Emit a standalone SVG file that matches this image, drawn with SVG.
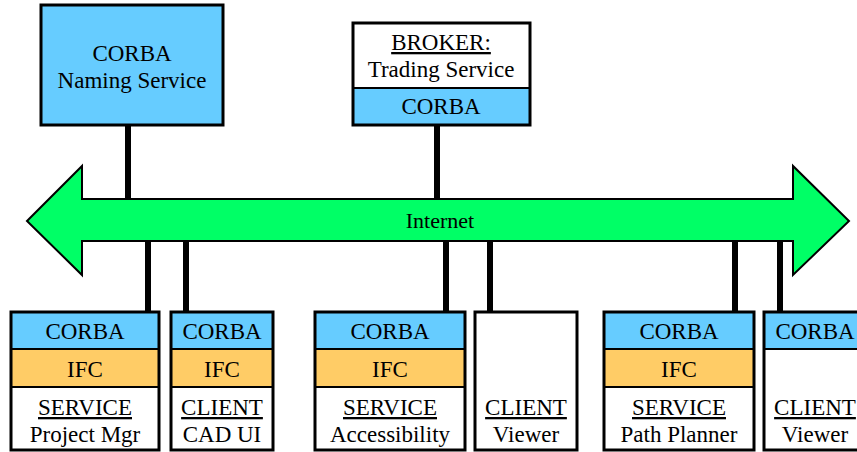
<svg xmlns="http://www.w3.org/2000/svg" width="857" height="452" viewBox="0 0 857 452">
<style>
text{font-family:"Liberation Serif","Times New Roman",serif;font-size:23px;fill:#000;text-anchor:middle}
.u{text-decoration:underline}
.box{stroke:#000;stroke-width:3}
.blue{fill:#66CCFF}
.orange{fill:#FFCC66}
.white{fill:#FFFFFF}
.div{stroke:#000;stroke-width:2;fill:none}
.conn{stroke:#000;stroke-width:6;fill:none}
</style>
<rect width="857" height="452" fill="#fff"/>
<g id="connectors">
<line class="conn" x1="128" y1="125" x2="128" y2="205"/>
<line class="conn" x1="437" y1="125" x2="437" y2="205"/>
<line class="conn" x1="148" y1="235" x2="148" y2="312"/>
<line class="conn" x1="186" y1="235" x2="186" y2="312"/>
<line class="conn" x1="446" y1="235" x2="446" y2="312"/>
<line class="conn" x1="490" y1="235" x2="490" y2="312"/>
<line class="conn" x1="735" y1="235" x2="735" y2="312"/>
<line class="conn" x1="780" y1="235" x2="780" y2="312"/>
</g>
<g id="internet">
<polygon points="27,221 82,166 82,199 793,199 793,166 849,221 793,275 793,241 82,241 82,275" fill="#00FF66" stroke="#000" stroke-width="2"/>
<text x="440" y="228" style="font-size:22px">Internet</text>
</g>
<g id="naming">
<rect class="box blue" x="41" y="5" width="182" height="120"/>
<text x="132" y="61">CORBA</text>
<text x="132" y="88">Naming Service</text>
</g>
<g id="broker">
<rect class="white" x="353" y="23" width="177" height="65"/>
<rect class="blue" x="353" y="88" width="177" height="37"/>
<line class="div" x1="353" y1="88" x2="530" y2="88"/>
<rect class="box" fill="none" x="353" y="23" width="177" height="102"/>
<text class="u" x="441" y="50">BROKER:</text>
<text x="441" y="77">Trading Service</text>
<text x="441" y="114">CORBA</text>
</g>
<g id="svc-project">
<rect class="blue" x="11" y="312" width="148" height="37"/>
<rect class="orange" x="11" y="349" width="148" height="38"/>
<rect class="white" x="11" y="387" width="148" height="63"/>
<line class="div" x1="11" y1="349" x2="159" y2="349"/>
<line class="div" x1="11" y1="387" x2="159" y2="387"/>
<rect class="box" fill="none" x="11" y="312" width="148" height="138"/>
<text x="85" y="339">CORBA</text>
<text x="85" y="377">IFC</text>
<text class="u" x="85" y="415">SERVICE</text>
<text x="85" y="442">Project Mgr</text>
</g>
<g id="client-cad">
<rect class="blue" x="171" y="312" width="102" height="37"/>
<rect class="orange" x="171" y="349" width="102" height="38"/>
<rect class="white" x="171" y="387" width="102" height="63"/>
<line class="div" x1="171" y1="349" x2="273" y2="349"/>
<line class="div" x1="171" y1="387" x2="273" y2="387"/>
<rect class="box" fill="none" x="171" y="312" width="102" height="138"/>
<text x="222" y="339">CORBA</text>
<text x="222" y="377">IFC</text>
<text class="u" x="222" y="415">CLIENT</text>
<text x="222" y="442">CAD UI</text>
</g>
<g id="svc-access">
<rect class="blue" x="315" y="312" width="150" height="37"/>
<rect class="orange" x="315" y="349" width="150" height="38"/>
<rect class="white" x="315" y="387" width="150" height="63"/>
<line class="div" x1="315" y1="349" x2="465" y2="349"/>
<line class="div" x1="315" y1="387" x2="465" y2="387"/>
<rect class="box" fill="none" x="315" y="312" width="150" height="138"/>
<text x="390" y="339">CORBA</text>
<text x="390" y="377">IFC</text>
<text class="u" x="390" y="415">SERVICE</text>
<text x="390" y="442">Accessibility</text>
</g>
<g id="client-viewer1">
<rect class="box white" x="475" y="312" width="102" height="138"/>
<text class="u" x="526" y="415">CLIENT</text>
<text x="526" y="442">Viewer</text>
</g>
<g id="svc-path">
<rect class="blue" x="604" y="312" width="150" height="37"/>
<rect class="orange" x="604" y="349" width="150" height="38"/>
<rect class="white" x="604" y="387" width="150" height="63"/>
<line class="div" x1="604" y1="349" x2="754" y2="349"/>
<line class="div" x1="604" y1="387" x2="754" y2="387"/>
<rect class="box" fill="none" x="604" y="312" width="150" height="138"/>
<text x="679" y="339">CORBA</text>
<text x="679" y="377">IFC</text>
<text class="u" x="679" y="415">SERVICE</text>
<text x="679" y="442">Path Planner</text>
</g>
<g id="client-viewer2">
<rect class="blue" x="764" y="312" width="102" height="37"/>
<rect class="white" x="764" y="349" width="102" height="101"/>
<line class="div" x1="764" y1="349" x2="866" y2="349"/>
<rect class="box" fill="none" x="764" y="312" width="102" height="138"/>
<text x="815" y="339">CORBA</text>
<text class="u" x="815" y="415">CLIENT</text>
<text x="815" y="442">Viewer</text>
</g>
</svg>
